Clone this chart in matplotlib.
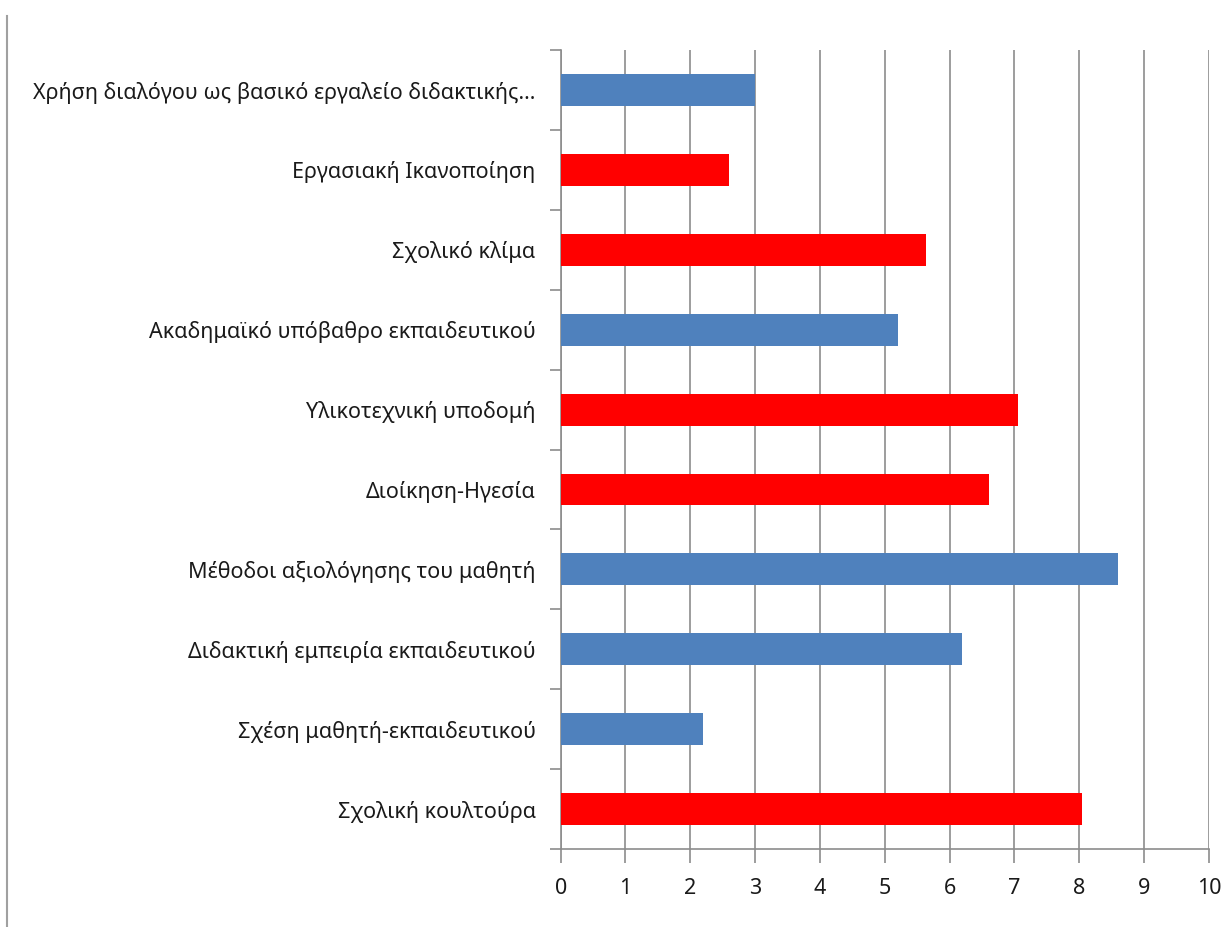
import numpy as np
import matplotlib
matplotlib.use("Agg")
import matplotlib.pyplot as plt
from matplotlib.lines import Line2D

plt.rcParams['font.family'] = ['Noto Sans', 'DejaVu Sans']

# factors, listed from bottom to top of the chart
factors = [
    'Σχολική κουλτούρα',
    'Σχέση μαθητή-εκπαιδευτικού',
    'Διδακτική εμπειρία εκπαιδευτικού',
    'Μέθοδοι αξιολόγησης του μαθητή',
    'Διοίκηση-Ηγεσία',
    'Υλικοτεχνική υποδομή',
    'Ακαδημαϊκό υπόβαθρο εκπαιδευτικού',
    'Σχολικό κλίμα',
    'Εργασιακή Ικανοποίηση',
    'Χρήση διαλόγου ως βασικό εργαλείο διδακτικής...',
]
scores = [8.04, 2.2, 6.19, 8.59, 6.61, 7.05, 5.21, 5.64, 2.6, 3.0]
groups = ['r', 'b', 'b', 'b', 'r', 'r', 'b', 'r', 'r', 'b']

palette = {'r': '#FF0000', 'b': '#4F81BD'}
grid_col = '#8C8C8C'

fig = plt.figure(figsize=(12.26, 9.27), dpi=100)
ax = fig.add_axes([0.4573, 0.0841, 0.5288, 0.8619])

pos = np.arange(len(factors))
ax.barh(pos, scores, height=0.4, color=[palette[g] for g in groups], zorder=3)

ax.set_xlim(0, 10)
ax.set_ylim(-0.5, len(factors) - 0.5)
ax.set_xticks(np.arange(0, 11, 1))
ax.xaxis.grid(True, color=grid_col, linewidth=1.2, zorder=0)

# category labels sit at centres, tick marks sit on the boundaries
ax.set_yticks(pos)
ax.set_yticklabels(factors, fontsize=15.5, color='#1A1A1A')
ax.tick_params(axis='y', which='major', length=0, pad=18)
ax.set_yticks(np.arange(-0.5, len(factors)), minor=True)
ax.tick_params(axis='y', which='minor', length=8, width=1.2, color=grid_col,
               direction='out')
ax.tick_params(axis='x', length=10, width=1.2, color=grid_col,
               labelsize=15.5, labelcolor='#1A1A1A', pad=11)

for side in ['top', 'right']:
    ax.spines[side].set_visible(False)
for side in ['left', 'bottom']:
    ax.spines[side].set_color(grid_col)
    ax.spines[side].set_linewidth(1.2)

# thin frame line on the far left
fig.add_artist(Line2D([7 / 1226, 7 / 1226], [0, 1 - 16 / 927],
                      transform=fig.transFigure, color='#A0A0A0', lw=1.5))

fig.savefig('out.png', dpi=100)
